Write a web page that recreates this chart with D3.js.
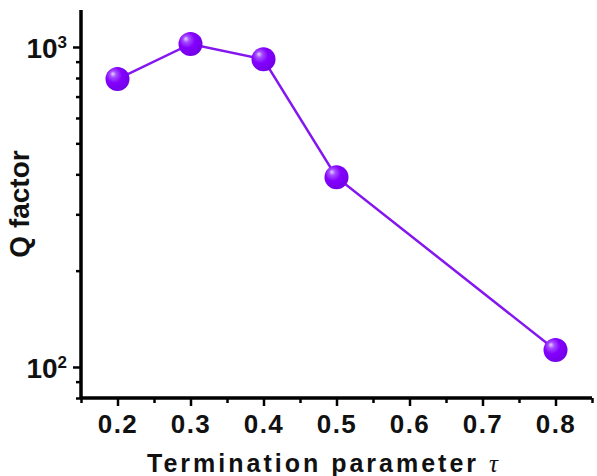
<!DOCTYPE html>
<html>
<head>
<meta charset="utf-8">
<script src="https://cdn.jsdelivr.net/npm/d3@7"></script>
<style>
  body { margin: 0; background: #fff; }
  svg { display: block; }
  text { font-family: "Liberation Sans", Arial, sans-serif; font-weight: bold; fill: #111; }
</style>
</head>
<body>
<div id="chart"></div>
<script>
// values
const tau = [0.2, 0.3, 0.4, 0.5, 0.8];
const qFactor = [794, 1022, 915, 392, 113];
const xMajor = [0.2, 0.3, 0.4, 0.5, 0.6, 0.7, 0.8];
const xMinor = [0.15, 0.25, 0.35, 0.45, 0.55, 0.65, 0.75, 0.85];
const yMajor = [100, 1000];
const yMinor = [80, 90, 200, 300, 400, 500, 600, 700, 800, 900];

const W = 597, H = 476;
const margin = {top: 10, right: 5, bottom: 78, left: 81},
  width = W - margin.left - margin.right,
  height = H - margin.top - margin.bottom;

const svg = d3.select("#chart").append("svg")
  .attr("width", W).attr("height", H);

const g = svg.append("g")
  .attr("transform", `translate(${margin.left},${margin.top})`);

const x = d3.scaleLinear().domain([0.15, 0.85]).range([0, width]);
const y = d3.scaleLog().domain([80, 1305]).range([height, 0]);

// sphere look for the markers
const grad = svg.append("defs").append("radialGradient")
  .attr("id", "ball").attr("cx", "40%").attr("cy", "38%").attr("r", "60%")
  .attr("fx", "30%").attr("fy", "28%");
grad.append("stop").attr("offset", "0%").attr("stop-color", "#e6d2ff");
grad.append("stop").attr("offset", "22%").attr("stop-color", "#a64dff");
grad.append("stop").attr("offset", "55%").attr("stop-color", "#8400ff");
grad.append("stop").attr("offset", "100%").attr("stop-color", "#7400e8");

// minor ticks
g.append("g").attr("class", "x-minor")
  .attr("transform", `translate(0,${height})`)
  .call(d3.axisBottom(x).tickValues(xMinor).tickSize(5).tickFormat(""));
g.append("g").attr("class", "y-minor")
  .call(d3.axisLeft(y).tickValues(yMinor).tickSize(5).tickFormat(""));

// major ticks
const xAxis = g.append("g").attr("class", "x-axis")
  .attr("transform", `translate(0,${height})`)
  .call(d3.axisBottom(x).tickValues(xMajor).tickSize(8).tickPadding(8)
    .tickFormat(d3.format(".1f")));
xAxis.selectAll("text").attr("font-size", 26).attr("dy", "0.72em").style("letter-spacing", "1.5px");

const yAxis = g.append("g").attr("class", "y-axis")
  .call(d3.axisLeft(y).tickValues(yMajor).tickSize(8).tickPadding(12).tickFormat(""));
yAxis.selectAll(".tick").append("text")
  .attr("x", -14).attr("dy", "0.36em").attr("text-anchor", "end")
  .attr("font-size", 28)
  .text("10")
  .append("tspan").attr("dy", "-0.55em").attr("font-size", 17)
  .text(d => Math.round(Math.log10(d)));

svg.selectAll(".domain").attr("stroke-width", 3);
svg.selectAll(".tick line").attr("stroke-width", 2.5);
svg.selectAll(".x-axis .domain, .x-minor .domain").attr("d", `M0,0H${width}`);
svg.selectAll(".y-axis .domain, .y-minor .domain").attr("d", `M0,${height}V0`);

// line + markers
const pts = tau.map((t, i) => ({t, q: qFactor[i]}));
g.append("path").datum(pts)
  .attr("fill", "none").attr("stroke", "#8416f0").attr("stroke-width", 2.5)
  .attr("d", d3.line().x(d => x(d.t)).y(d => y(d.q)));

g.selectAll(".pt").data(pts).enter().append("circle")
  .attr("class", "pt")
  .attr("cx", d => x(d.t)).attr("cy", d => y(d.q))
  .attr("r", 12).attr("fill", "url(#ball)");

// axis titles
svg.append("text")
  .attr("x", 324).attr("y", 472).attr("text-anchor", "middle")
  .attr("font-size", 25).style("letter-spacing", "3px")
  .text("Termination parameter ")
  .append("tspan")
  .style("font-family", "'Liberation Serif', 'DejaVu Serif', serif")
  .style("font-style", "italic").style("font-weight", "normal")
  .text("τ");

svg.append("text")
  .attr("transform", "translate(29,204) rotate(-90)")
  .attr("text-anchor", "middle")
  .attr("font-size", 28)
  .text("Q factor");
</script>
</body>
</html>
